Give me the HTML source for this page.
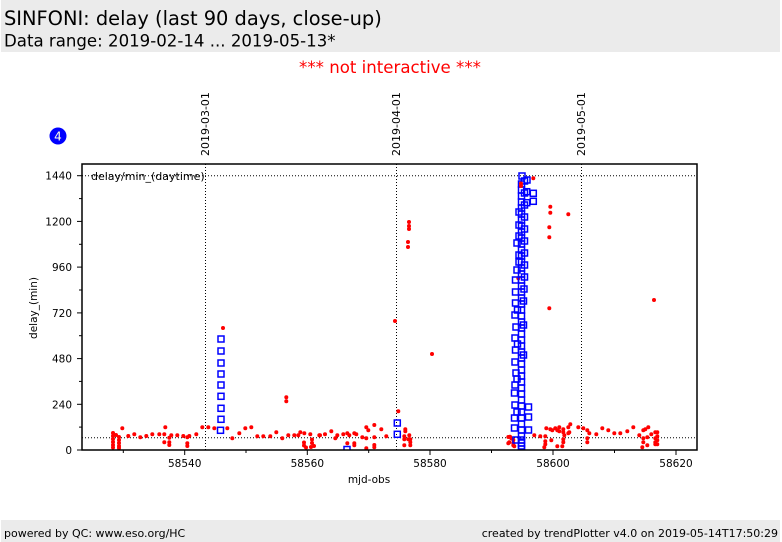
<!DOCTYPE html>
<html><head><meta charset="utf-8"><style>
html,body{margin:0;padding:0;background:#fff;}
svg{display:block;font-family:"DejaVu Sans","Liberation Sans",sans-serif;}
</style></head><body>
<svg width="782" height="542" viewBox="0 0 782 542" xmlns="http://www.w3.org/2000/svg">
<defs>
<clipPath id="pc"><rect x="82" y="164" width="615" height="286"/></clipPath>
<g id="sq"><rect x="-3" y="-3" width="6" height="6" fill="none" stroke="#0000ff" stroke-width="1.5"/></g>
</defs>
<rect x="0" y="0" width="782" height="542" fill="#fff"/>
<rect x="1" y="0" width="779" height="52" fill="#ebebeb"/>
<text x="4" y="25" font-size="19.4" fill="#000">SINFONI: delay (last 90 days, close-up)</text>
<text x="4" y="46.5" font-size="16.6" fill="#000">Data range: 2019-02-14 ... 2019-05-13*</text>
<text x="390" y="73" font-size="16.6" fill="#ff0000" text-anchor="middle">*** not interactive ***</text>

<circle cx="58" cy="136" r="8.5" fill="#0000ff"/>
<text x="58" y="140.5" font-size="12" fill="#ffffe0" text-anchor="middle">4</text>

<text transform="translate(209,156) rotate(-90)" font-size="11" fill="#000">2019-03-01</text>
<text transform="translate(400,156) rotate(-90)" font-size="11" fill="#000">2019-04-01</text>
<text transform="translate(585,156) rotate(-90)" font-size="11" fill="#000">2019-05-01</text>

<g stroke="#000" stroke-width="1" stroke-dasharray="1,2" fill="none">
<line x1="205.5" y1="164" x2="205.5" y2="450"/>
<line x1="396.5" y1="164" x2="396.5" y2="450"/>
<line x1="581.5" y1="164" x2="581.5" y2="450"/>
<line x1="82" y1="175.7" x2="697" y2="175.7"/>
<line x1="82" y1="437.7" x2="697" y2="437.7"/>
</g>

<text x="91" y="180" font-size="11" fill="#000">delay/min_(daytime)</text>

<g clip-path="url(#pc)">
<g fill="#ff0000">
<circle cx="113" cy="433" r="2"/><circle cx="113" cy="436" r="2"/><circle cx="113" cy="439" r="2"/><circle cx="113" cy="442" r="2"/><circle cx="113" cy="445" r="2"/><circle cx="113" cy="447.5" r="2"/><circle cx="116" cy="435" r="2"/>
<circle cx="119" cy="437" r="2"/><circle cx="119" cy="440" r="2"/><circle cx="119" cy="443" r="2"/><circle cx="119" cy="446" r="2"/><circle cx="119" cy="448" r="2"/>
<circle cx="122.3" cy="428.3" r="2"/><circle cx="128.3" cy="436" r="2"/><circle cx="134.3" cy="434.3" r="2"/><circle cx="140.3" cy="437.3" r="2"/><circle cx="146.3" cy="436" r="2"/><circle cx="152.3" cy="434.3" r="2"/><circle cx="159.3" cy="434.3" r="2"/><circle cx="164.3" cy="434.3" r="2"/><circle cx="165.3" cy="427.3" r="2"/><circle cx="164.3" cy="442.3" r="2"/><circle cx="169.3" cy="437.7" r="2"/><circle cx="169.3" cy="442.3" r="2"/><circle cx="169.3" cy="445" r="2"/><circle cx="171.3" cy="435.3" r="2"/><circle cx="177.3" cy="435.3" r="2"/><circle cx="183.3" cy="436" r="2"/><circle cx="187.3" cy="437.3" r="2"/><circle cx="187.3" cy="443.3" r="2"/><circle cx="187.3" cy="446" r="2"/><circle cx="189.3" cy="436" r="2"/><circle cx="196.3" cy="434.3" r="2"/><circle cx="202.3" cy="427.3" r="2"/><circle cx="208.3" cy="427.3" r="2"/><circle cx="214.3" cy="428.3" r="2"/><circle cx="223" cy="328" r="2"/><circle cx="227.3" cy="428.3" r="2"/><circle cx="232.3" cy="438.3" r="2"/><circle cx="239.3" cy="433.3" r="2"/><circle cx="245.3" cy="428.3" r="2"/><circle cx="251.3" cy="427.3" r="2"/><circle cx="257.3" cy="436.3" r="2"/><circle cx="263.3" cy="436.3" r="2"/><circle cx="270.3" cy="436.3" r="2"/><circle cx="276.3" cy="432.3" r="2"/><circle cx="282.3" cy="438.3" r="2"/><circle cx="286.3" cy="397.3" r="2"/><circle cx="286.3" cy="401.3" r="2"/><circle cx="288.3" cy="435.3" r="2"/><circle cx="294.3" cy="435.3" r="2"/><circle cx="298.3" cy="435.3" r="2"/><circle cx="300.3" cy="432.3" r="2"/><circle cx="304.3" cy="433.3" r="2"/><circle cx="304" cy="442.5" r="2"/><circle cx="304" cy="445.5" r="2"/><circle cx="306" cy="447.5" r="2"/><circle cx="310.3" cy="434.3" r="2"/><circle cx="312" cy="439.5" r="2"/><circle cx="312" cy="443" r="2"/><circle cx="311" cy="447" r="2"/><circle cx="314" cy="446" r="2"/><circle cx="319.3" cy="435.3" r="2"/>
<circle cx="320" cy="435.3" r="2"/><circle cx="325" cy="434.3" r="2"/><circle cx="331.3" cy="431.3" r="2"/><circle cx="335.3" cy="438.3" r="2"/><circle cx="337.3" cy="435.3" r="2"/><circle cx="343.3" cy="434.3" r="2"/><circle cx="347.3" cy="433.3" r="2"/><circle cx="349.3" cy="435.3" r="2"/><circle cx="347.3" cy="443.3" r="2"/><circle cx="354.3" cy="433.3" r="2"/><circle cx="356.3" cy="434.3" r="2"/><circle cx="354.3" cy="443.3" r="2"/><circle cx="354.3" cy="445.3" r="2"/><circle cx="362.3" cy="437.3" r="2"/><circle cx="366.3" cy="427.3" r="2"/><circle cx="368.3" cy="430.3" r="2"/><circle cx="366.3" cy="438.3" r="2"/><circle cx="366.3" cy="448.3" r="2"/><circle cx="374.3" cy="425" r="2"/><circle cx="374.3" cy="437.3" r="2"/><circle cx="374.3" cy="445" r="2"/><circle cx="374.3" cy="447.3" r="2"/><circle cx="381.3" cy="429.3" r="2"/><circle cx="386.3" cy="436.3" r="2"/><circle cx="395" cy="321" r="2"/><circle cx="398.3" cy="411.3" r="2"/><circle cx="405.3" cy="429.3" r="2"/><circle cx="405.3" cy="431.3" r="2"/><circle cx="404.3" cy="436.3" r="2"/><circle cx="404.3" cy="439.3" r="2"/><circle cx="404.3" cy="445.3" r="2"/><circle cx="409.3" cy="435.3" r="2"/><circle cx="410.3" cy="439.3" r="2"/><circle cx="410.3" cy="442.3" r="2"/><circle cx="410.3" cy="445.3" r="2"/><circle cx="408.3" cy="439.3" r="2"/><circle cx="409" cy="222" r="2"/><circle cx="409" cy="226" r="2"/><circle cx="409" cy="229" r="2"/><circle cx="408" cy="242" r="2"/><circle cx="408" cy="247" r="2"/><circle cx="432" cy="354" r="2"/>
<circle cx="508.3" cy="437" r="2"/><circle cx="508.3" cy="443.3" r="2"/><circle cx="510" cy="436.7" r="2"/><circle cx="511.3" cy="438.3" r="2"/><circle cx="509.3" cy="442.3" r="2"/><circle cx="513.3" cy="440" r="2"/><circle cx="513.3" cy="443.3" r="2"/><circle cx="513.3" cy="445.3" r="2"/><circle cx="514.3" cy="446.3" r="2"/>
<circle cx="533.3" cy="178.3" r="2"/><circle cx="518.3" cy="278.3" r="2"/><circle cx="549.3" cy="308.3" r="2"/><circle cx="550.3" cy="206.7" r="2"/><circle cx="550.3" cy="212.7" r="2"/><circle cx="568.3" cy="214.3" r="2"/><circle cx="549.3" cy="227.3" r="2"/><circle cx="549.3" cy="237.3" r="2"/><circle cx="654" cy="300" r="2"/>
<circle cx="534.3" cy="435.3" r="2"/><circle cx="540.3" cy="436.3" r="2"/><circle cx="545.3" cy="436.3" r="2"/><circle cx="545.3" cy="441.3" r="2"/><circle cx="545.3" cy="444.3" r="2"/><circle cx="544.3" cy="447.3" r="2"/><circle cx="546.3" cy="428.3" r="2"/><circle cx="550.3" cy="429.3" r="2"/><circle cx="552.3" cy="430.3" r="2"/><circle cx="551.3" cy="440.3" r="2"/><circle cx="555.3" cy="428.3" r="2"/><circle cx="557.3" cy="430.3" r="2"/><circle cx="559.3" cy="427.3" r="2"/><circle cx="559.3" cy="431.3" r="2"/><circle cx="563.3" cy="429.3" r="2"/><circle cx="563.3" cy="432.3" r="2"/><circle cx="564.3" cy="435.3" r="2"/><circle cx="563.3" cy="439.3" r="2"/><circle cx="563.3" cy="442.3" r="2"/><circle cx="562.3" cy="446.3" r="2"/><circle cx="557.3" cy="446.3" r="2"/><circle cx="568.3" cy="427.3" r="2"/><circle cx="569.3" cy="432.3" r="2"/><circle cx="568.3" cy="433.3" r="2"/><circle cx="570.3" cy="424.3" r="2"/><circle cx="578.3" cy="427.3" r="2"/><circle cx="583.3" cy="428.3" r="2"/><circle cx="587.3" cy="430.3" r="2"/><circle cx="587.3" cy="438.3" r="2"/><circle cx="587.3" cy="442.3" r="2"/><circle cx="589.3" cy="433.3" r="2"/><circle cx="596.3" cy="434.3" r="2"/><circle cx="602.3" cy="428.3" r="2"/><circle cx="608.3" cy="430.3" r="2"/><circle cx="614.3" cy="433.3" r="2"/><circle cx="620.3" cy="433.3" r="2"/><circle cx="627.3" cy="431.3" r="2"/><circle cx="633.3" cy="427.3" r="2"/><circle cx="639.3" cy="435.3" r="2"/><circle cx="643.3" cy="430.3" r="2"/><circle cx="645.3" cy="429.3" r="2"/><circle cx="648.3" cy="427.3" r="2"/><circle cx="643.3" cy="438.3" r="2"/><circle cx="643.3" cy="442.3" r="2"/><circle cx="642.3" cy="447.3" r="2"/><circle cx="647.3" cy="437.3" r="2"/><circle cx="647.3" cy="445.3" r="2"/><circle cx="651.3" cy="434.3" r="2"/><circle cx="655.3" cy="432.3" r="2"/><circle cx="655.3" cy="438.3" r="2"/><circle cx="655.3" cy="442.3" r="2"/><circle cx="655.3" cy="444.3" r="2"/><circle cx="657.3" cy="432.3" r="2"/><circle cx="657.3" cy="436.3" r="2"/><circle cx="657.3" cy="440.3" r="2"/><circle cx="657.3" cy="444.3" r="2"/>
</g>
<use href="#sq" x="221" y="339"/><use href="#sq" x="221" y="351"/><use href="#sq" x="221" y="363"/><use href="#sq" x="221" y="374"/><use href="#sq" x="221" y="385"/><use href="#sq" x="221" y="396.3"/><use href="#sq" x="221" y="408.3"/><use href="#sq" x="221" y="419.3"/><use href="#sq" x="220.5" y="430.3"/>
<use href="#sq" x="347" y="449.5"/><use href="#sq" x="397.3" y="423"/><use href="#sq" x="397.3" y="434.3"/>
<use href="#sq" x="517" y="243"/><use href="#sq" x="517" y="270"/><use href="#sq" x="515.5" y="280"/><use href="#sq" x="515.5" y="292"/><use href="#sq" x="515.5" y="303"/><use href="#sq" x="515" y="315"/><use href="#sq" x="516" y="327"/><use href="#sq" x="515" y="338"/><use href="#sq" x="515.5" y="350"/><use href="#sq" x="515" y="362"/><use href="#sq" x="516" y="373"/><use href="#sq" x="515" y="385"/><use href="#sq" x="514.5" y="393"/><use href="#sq" x="515" y="405"/><use href="#sq" x="514.5" y="418"/><use href="#sq" x="514.5" y="428"/><use href="#sq" x="516" y="440"/>
<use href="#sq" x="517.5" y="310"/><use href="#sq" x="517.5" y="344"/><use href="#sq" x="517" y="379"/><use href="#sq" x="517" y="412"/>
<use href="#sq" x="524.5" y="181"/><use href="#sq" x="524.5" y="193"/><use href="#sq" x="524.5" y="205"/><use href="#sq" x="524.5" y="217"/><use href="#sq" x="524.5" y="229"/><use href="#sq" x="524.5" y="241"/><use href="#sq" x="524.5" y="253"/><use href="#sq" x="524.5" y="265"/><use href="#sq" x="524.5" y="277"/><use href="#sq" x="524" y="289"/><use href="#sq" x="523.5" y="301"/><use href="#sq" x="523.5" y="325"/><use href="#sq" x="523.5" y="355"/>
<use href="#sq" x="519" y="225"/><use href="#sq" x="519" y="255"/><use href="#sq" x="519" y="262"/><use href="#sq" x="519" y="212"/><use href="#sq" x="519" y="236"/>
<use href="#sq" x="522" y="176"/><use href="#sq" x="521.5" y="184"/><use href="#sq" x="521.5" y="190"/><use href="#sq" x="521.5" y="196"/><use href="#sq" x="521.5" y="202"/><use href="#sq" x="521.5" y="208"/><use href="#sq" x="521.5" y="214"/><use href="#sq" x="521.5" y="220"/><use href="#sq" x="521.5" y="226"/><use href="#sq" x="521.5" y="232"/><use href="#sq" x="521.5" y="238"/><use href="#sq" x="521.5" y="244"/><use href="#sq" x="521.5" y="250"/><use href="#sq" x="521.5" y="256"/><use href="#sq" x="521.5" y="262"/><use href="#sq" x="521.5" y="268"/><use href="#sq" x="521.5" y="274"/><use href="#sq" x="521.5" y="280"/><use href="#sq" x="521.5" y="286"/><use href="#sq" x="521.5" y="292"/><use href="#sq" x="521.5" y="298"/><use href="#sq" x="521.5" y="304"/><use href="#sq" x="521.5" y="310"/><use href="#sq" x="521.5" y="316"/><use href="#sq" x="521.5" y="322"/><use href="#sq" x="521.5" y="328"/><use href="#sq" x="521.5" y="334"/><use href="#sq" x="521.5" y="340"/><use href="#sq" x="521.5" y="346"/><use href="#sq" x="521.5" y="352"/><use href="#sq" x="521.5" y="358"/><use href="#sq" x="521.5" y="364"/><use href="#sq" x="521.5" y="370"/><use href="#sq" x="521.5" y="376"/><use href="#sq" x="521.5" y="382"/><use href="#sq" x="521.5" y="388"/><use href="#sq" x="521.5" y="394"/><use href="#sq" x="521.5" y="400"/><use href="#sq" x="521.5" y="406"/><use href="#sq" x="521.5" y="412"/><use href="#sq" x="521.5" y="418"/><use href="#sq" x="521.5" y="424"/><use href="#sq" x="521.5" y="430"/><use href="#sq" x="521.5" y="436"/><use href="#sq" x="521.5" y="440"/><use href="#sq" x="521.5" y="443"/><use href="#sq" x="521.5" y="446"/><use href="#sq" x="521.5" y="449"/>
<use href="#sq" x="527" y="180"/><use href="#sq" x="526.7" y="191.7"/><use href="#sq" x="526.7" y="202.7"/><use href="#sq" x="533.3" y="193.3"/><use href="#sq" x="533.3" y="201.3"/>
<use href="#sq" x="528.5" y="407"/><use href="#sq" x="528.5" y="417"/><use href="#sq" x="528.5" y="430"/>
<circle cx="521" cy="183.5" r="2" fill="#ff0000"/><circle cx="521" cy="186" r="2" fill="#ff0000"/>
</g>

<rect x="82" y="164" width="615" height="286" fill="none" stroke="#000" stroke-width="1.5"/>

<g stroke="#000" stroke-width="1">
<line x1="77" y1="450" x2="82" y2="450"/><line x1="77" y1="404.3" x2="82" y2="404.3"/><line x1="77" y1="358.6" x2="82" y2="358.6"/><line x1="77" y1="312.9" x2="82" y2="312.9"/><line x1="77" y1="267.1" x2="82" y2="267.1"/><line x1="77" y1="221.4" x2="82" y2="221.4"/><line x1="77" y1="175.7" x2="82" y2="175.7"/>
<line x1="79" y1="427.1" x2="82" y2="427.1"/><line x1="79" y1="381.4" x2="82" y2="381.4"/><line x1="79" y1="335.7" x2="82" y2="335.7"/><line x1="79" y1="290" x2="82" y2="290"/><line x1="79" y1="244.3" x2="82" y2="244.3"/><line x1="79" y1="198.6" x2="82" y2="198.6"/>
<line x1="184.7" y1="450" x2="184.7" y2="455"/><line x1="307.3" y1="450" x2="307.3" y2="455"/><line x1="430" y1="450" x2="430" y2="455"/><line x1="553" y1="450" x2="553" y2="455"/><line x1="676" y1="450" x2="676" y2="455"/>
<line x1="123.3" y1="450" x2="123.3" y2="453"/><line x1="246" y1="450" x2="246" y2="453"/><line x1="368.7" y1="450" x2="368.7" y2="453"/><line x1="491.5" y1="450" x2="491.5" y2="453"/><line x1="614.5" y1="450" x2="614.5" y2="453"/>
</g>
<g font-size="10.5" fill="#000" text-anchor="end">
<text x="72" y="454">0</text><text x="72" y="408.3">240</text><text x="72" y="362.6">480</text><text x="72" y="316.9">720</text><text x="72" y="271.1">960</text><text x="72" y="225.4">1200</text><text x="72" y="179.7">1440</text>
</g>
<g font-size="10.5" fill="#000" text-anchor="middle">
<text x="184.7" y="467">58540</text><text x="307.3" y="467">58560</text><text x="430" y="467">58580</text><text x="553" y="467">58600</text><text x="676" y="467">58620</text>
<text x="369" y="483">mjd-obs</text>
</g>
<text transform="translate(37,308) rotate(-90)" font-size="10.5" fill="#000" text-anchor="middle">delay_(min)</text>

<rect x="1" y="520" width="779" height="22" fill="#ebebeb"/>
<text x="4" y="537" font-size="11" fill="#000">powered by QC: www.eso.org/HC</text>
<text x="778" y="537" font-size="11" fill="#000" text-anchor="end">created by trendPlotter v4.0 on 2019-05-14T17:50:29</text>
</svg>
</body></html>
